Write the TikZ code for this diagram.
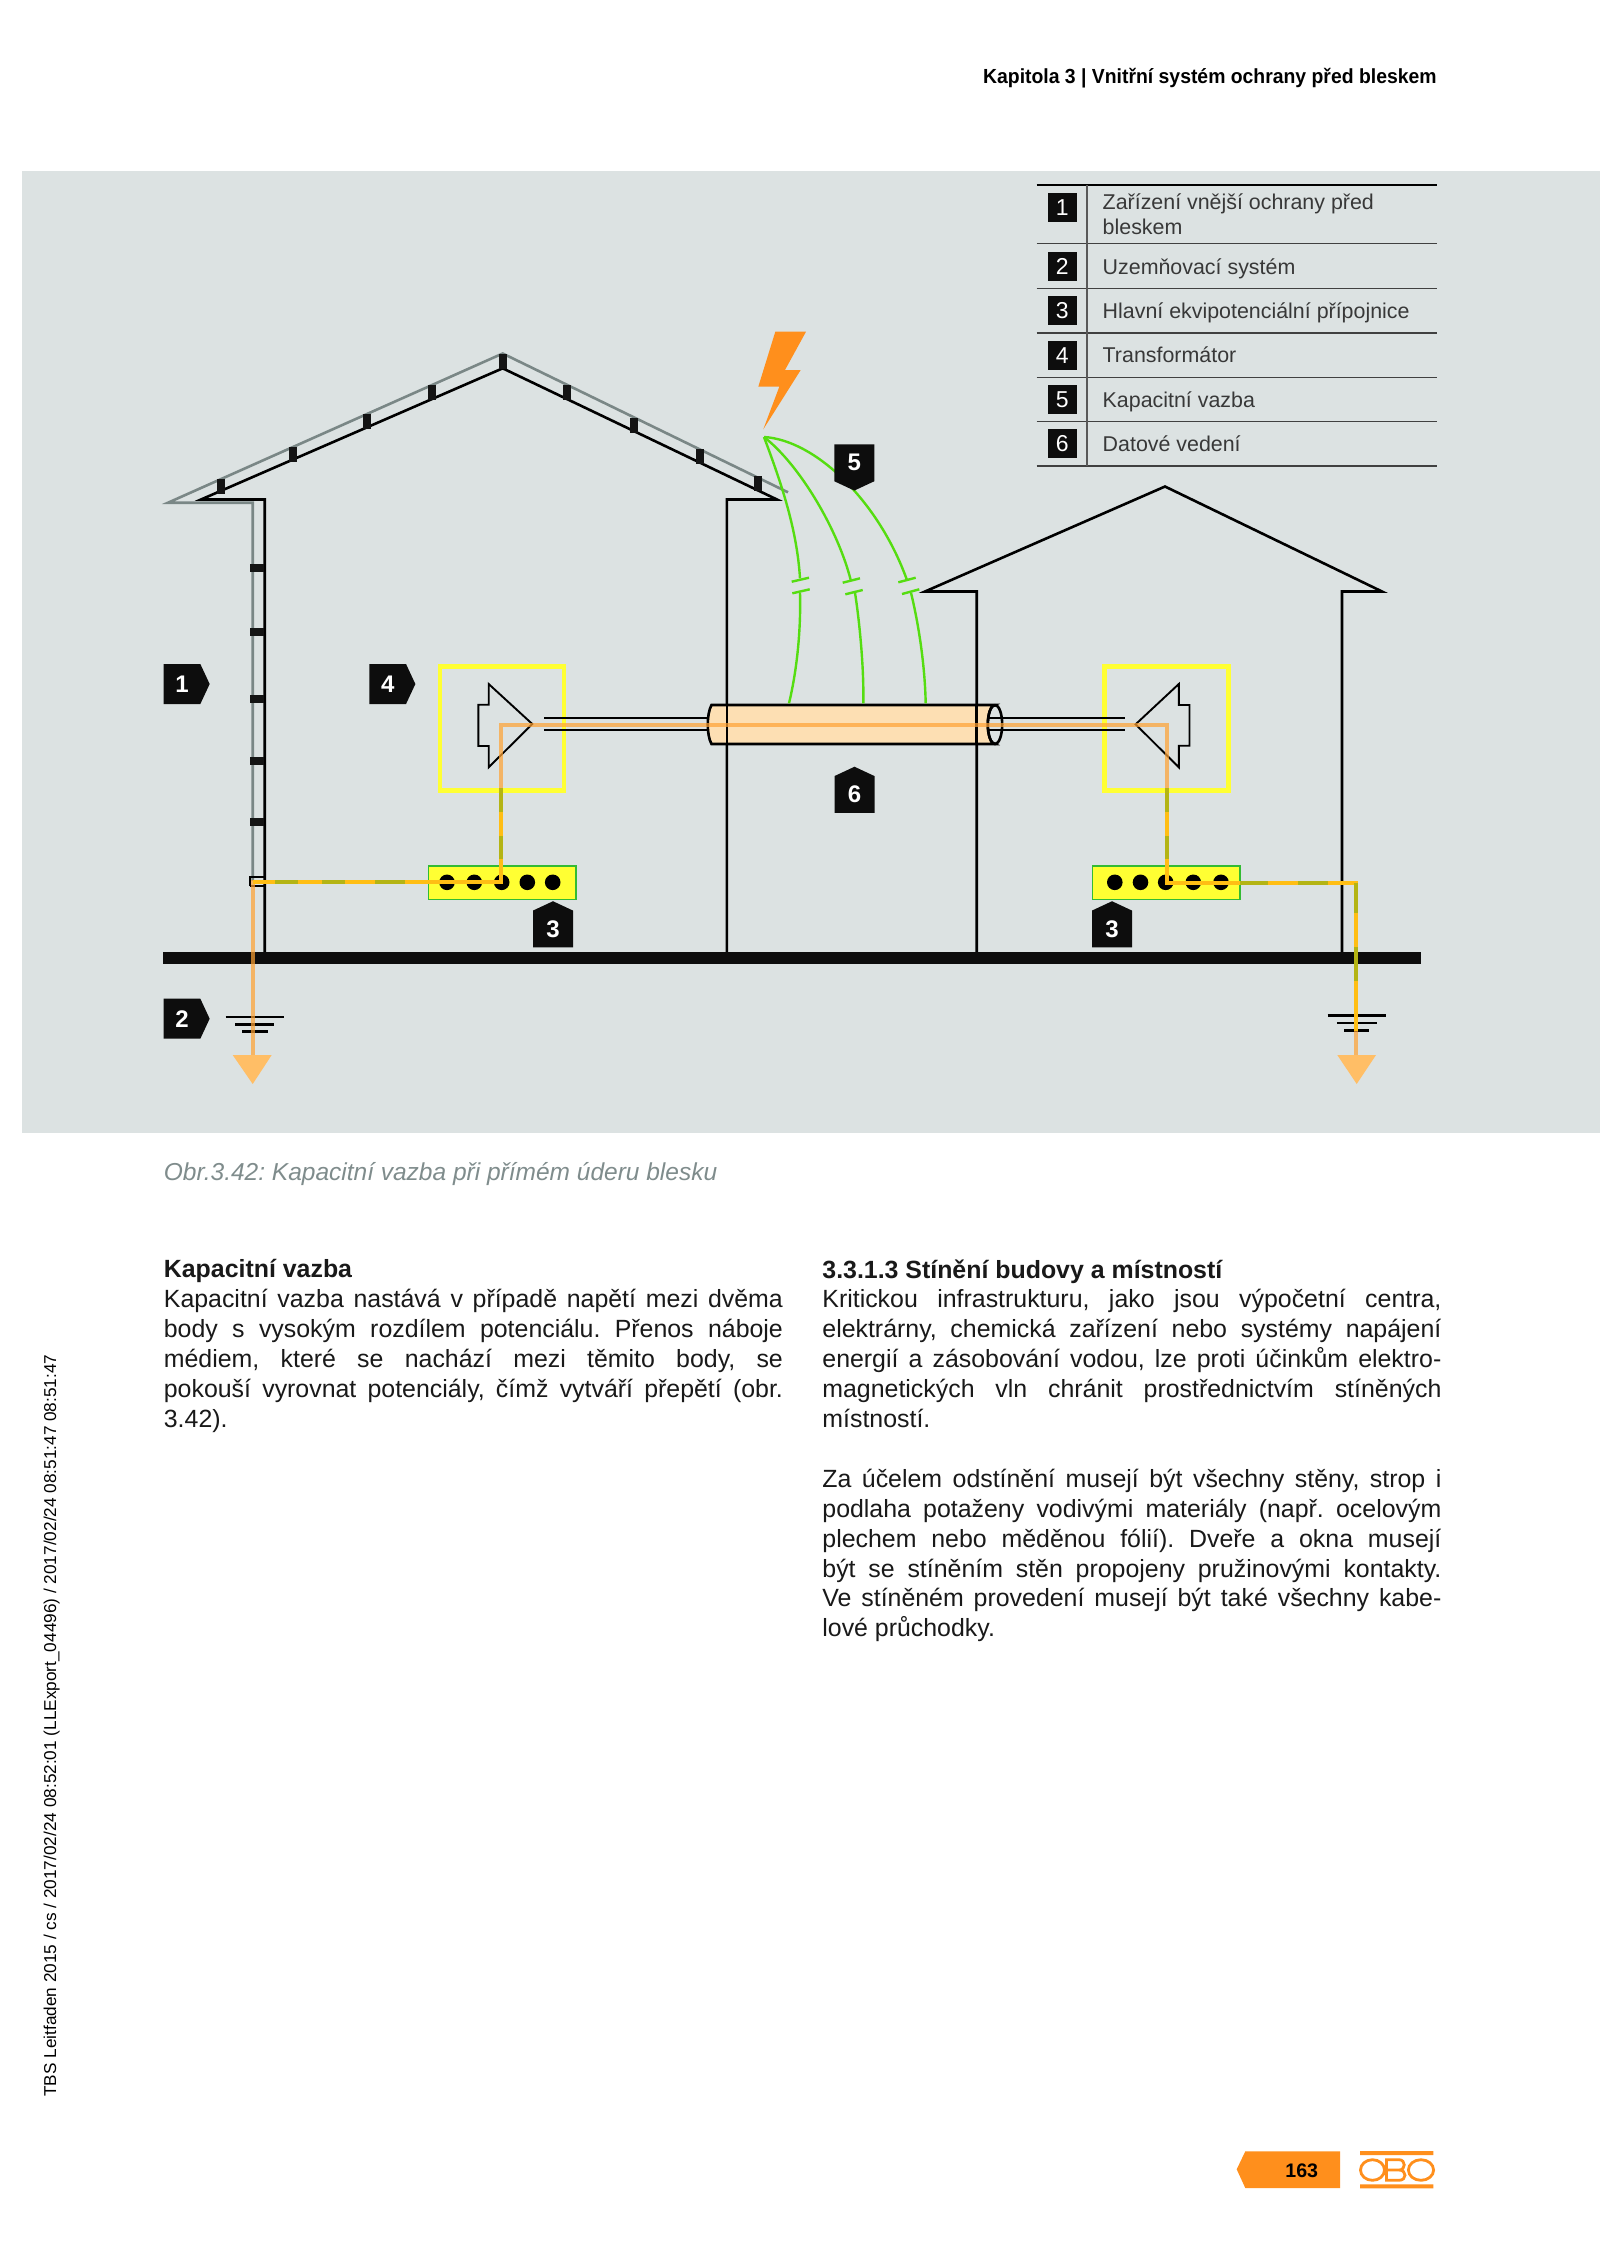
\documentclass[tikz,border=0pt]{standalone}
\usepackage{fontspec}
\setmainfont{Liberation Sans}
\newfontfamily\headfont[FakeStretch=.95]{Liberation Sans}
\usetikzlibrary{shapes.symbols}
\definecolor{panelgrey}{HTML}{DCE2E2}
\definecolor{roofgrey}{HTML}{7A8786}
\definecolor{boltorange}{HTML}{FF8F1C}
\definecolor{wireorange}{HTML}{FFA233}
\definecolor{arroworange}{HTML}{FFBE66}
\definecolor{coupgreen}{HTML}{55DD11}
\definecolor{boxyellow}{HTML}{FFFF33}
\definecolor{barborder}{HTML}{33BB33}
\definecolor{cablepeach}{HTML}{FDDFB3}
\definecolor{peyellow}{HTML}{FFBE14}
\definecolor{pegreen}{HTML}{B4B414}
\definecolor{capgrey}{HTML}{7F8C8C}
\tikzset{
  wall/.style={line width=1.3pt, black},
  roofline/.style={line width=1.3pt, roofgrey},
  clamp/.style={fill=black!92},
  coup/.style={line width=1.2pt, coupgreen},
  wire/.style={line width=2.1pt, wireorange, opacity=.71},
  peline/.style={line width=2.1pt, peyellow},
  pedash/.style={line width=2.1pt, pegreen},
  cableline/.style={line width=1.25pt, black},
  transf/.style={line width=.95pt, black},
  earthline/.style={line width=1.35pt},
  badge/.style={shape=signal, fill=black!95, text=white, font=\fontsize{12}{12}\selectfont\bfseries,
    minimum width=23pt, minimum height=20pt, inner sep=0pt, signal pointer angle=130},
  upbadge/.style={badge, minimum width=20pt, minimum height=20pt},
  keybox/.style={fill=black!95, text=white, minimum size=14.6pt, inner sep=0pt, font=\fontsize{11.5}{11.5}\selectfont},
  keytext/.style={anchor=base west, inner sep=0pt, font=\fontsize{10.7}{12.3}\selectfont, text=black!78},
  bodytext/.style={anchor=north west, inner sep=0pt, text width=309.5pt, align=justify, text=black!90,
    font=\frenchspacing\fontsize{12.45}{14.95}\selectfont},
}
\begin{document}
\begin{tikzpicture}[x=.5pt, y=-.5pt]
  \useasboundingbox (0,0) rectangle (1600,2245);
  \fill[white] (0,0) rectangle (1600,2245);
  \fill[panelgrey] (22,171) rectangle (1600,1133);
  % header
  \node[anchor=base east, inner sep=0pt, font=\headfont\fontsize{10.2}{12}\selectfont\bfseries] (head) at (1437,83)
    {Kapitola 3 | Vnitřní systém ochrany před bleskem};

  % left house
  \draw[wall] (264.7,952) -- (264.7,499.5) -- (201,499.5) -- (502.7,368.3) -- (777,499.5) -- (726.8,499.5) -- (726.8,952);
  \draw[roofline] (252.7,881) -- (252.7,502.7) -- (168,502.7) -- (502.7,353.5) -- (788,492.3);
  \foreach \x/\y in {220.5/486, 292.9/454, 366.5/421, 431.7/392.3, 502.7/361.7, 567/392.3, 633.5/425, 699.6/456, 757.6/483.7}
    \fill[clamp] (\x-4,\y-7.5) rectangle (\x+4,\y+7.5);
  \foreach \y in {568, 631.7, 698.7, 760.5, 822}
    \fill[clamp] (250,\y-4) rectangle (264,\y+4);
  \draw[line width=1.2pt] (250,886) -- (250,877) -- (264,877);
  \draw[line width=1.2pt] (250,886) -- (264,886);

  % right house
  \draw[wall] (976.7,952) -- (976.7,591.5) -- (925,591.5) -- (1165,486.5) -- (1382,591.5) -- (1342,591.5) -- (1342,952);

  % ground
  \fill[black!95] (162.7,951.7) rectangle (1420.7,964);

  % yellow boxes
  \draw[line width=2.35pt, boxyellow] (440,666.5) rectangle (564,790.7);
  \draw[line width=2.35pt, boxyellow] (1104.5,666.5) rectangle (1228.5,790.7);

  % data cable
  \draw[cableline] (544,718) -- (708,718) (544,730) -- (708,730);
  \draw[wall, fill=cablepeach] (711.5,705) .. controls (706.5,714) and (706.5,735) .. (711.5,744)
    -- (995,744) arc[start angle=90, end angle=270, x radius=7.2, y radius=19.5] -- cycle;
  \draw[wall] (726.8,705) -- (726.8,744) (976.7,705) -- (976.7,744);
  \draw[wall] (995,705) arc[start angle=270, end angle=-90, x radius=7.2, y radius=19.5];
  \draw[cableline] (988,718) -- (1125,718) (988,730) -- (1125,730);

  % transformers
  \draw[transf] (532.3,724) -- (488.7,684) -- (488.7,704.7) -- (478.3,704.7) -- (478.3,746) -- (488.7,746) -- (488.7,767.3) -- cycle;
  \draw[transf] (1135.6,724.3) -- (1178.8,684) -- (1178.8,705) -- (1189.5,705) -- (1189.5,745.7) -- (1178.8,745.7) -- (1178.8,767.3) -- cycle;

  % bars
  \draw[line width=.8pt, draw=barborder, fill=boxyellow] (428.3,865.7) rectangle (575.7,899.3);
  \draw[line width=.8pt, draw=barborder, fill=boxyellow] (1092.5,865.7) rectangle (1239.9,899.3);
  \foreach \x in {447, 474.3, 501.7, 527.3, 552.7, 1114.8, 1140.5, 1165.7, 1193.3, 1221}
    \fill[black] (\x,882.3) circle (7.8);

  % earth symbols
  \draw[earthline] (225.7,1017) -- (284.3,1017) (235,1024.3) -- (274.3,1024.3) (242.3,1031.7) -- (267.7,1031.7);
  \draw[earthline] (1327.6,1015.3) -- (1386.3,1015.3) (1336.8,1023) -- (1377,1023) (1344,1030.3) -- (1369,1030.3);

  % potential equalisation
  \draw[wire] (252.7,1060) -- (252.7,882) -- (501,882) -- (501,725) -- (1167,725) -- (1167,883.3) -- (1356,883.3) -- (1356,1060);
  \draw[peline] (501,790) -- (501,882) -- (252.7,882);
  \draw[peline] (1167,790) -- (1167,883.3) -- (1356,883.3) -- (1356,1031);
  \draw[pedash] (501,788) -- (501,812) (501,836) -- (501,859)
    (275,882) -- (298,882) (322,882) -- (345,882) (375,882) -- (405,882);
  \draw[pedash] (1167,788) -- (1167,812) (1167,836) -- (1167,859)
    (1240,883.3) -- (1268,883.3) (1298,883.3) -- (1328,883.3)
    (1356,883) -- (1356,913) (1356,947) -- (1356,980.7);
  \fill[arroworange] (232.7,1055) -- (271.7,1055) -- (252.7,1084) -- cycle;
  \fill[arroworange] (1337.3,1055) -- (1376,1055) -- (1356.7,1084) -- cycle;

  % lightning and coupling paths
  \fill[boltorange] (775.3,331.7) -- (806,331.7) -- (785,370) -- (800.7,370) -- (763.3,429.3) -- (779.3,386.7) -- (758.3,386.7) -- cycle;
  \draw[coup] (764,437) .. controls (782,485) and (797,530) .. (800,578.3)
    (800,592.7) .. controls (801,630) and (797,670) .. (789,703.3);
  \draw[coup] (764,437) .. controls (800,465) and (838,530) .. (850.7,580)
    (855,592.7) .. controls (860,625) and (864,670) .. (863.3,703.3);
  \draw[coup] (764,437) .. controls (815,440) and (878,500) .. (906.7,579.3)
    (911,592.7) .. controls (920,630) and (925,670) .. (925.7,703.3);
  \draw[coup] (791.7,581.7) -- (809,577.7) (792.3,593.3) -- (809.7,589.3);
  \draw[coup] (842.7,582.7) -- (860,578.3) (845.3,594.3) -- (862.7,590);
  \draw[coup] (898.3,582.3) -- (915.7,577.7) (902,594) -- (919.3,589.3);

  % number tags
  \node[badge, signal to=east] (tag1) at (182,684) {1};
  \node[badge, signal to=east] (tag4) at (387.7,684) {4};
  \node[badge, signal to=east] (tag2) at (182,1018.7) {2};
  \node[upbadge, signal to=north] (tag3a) at (553,929) {3};
  \node[upbadge, signal to=north] (tag3b) at (1112,929) {3};
  \node[upbadge, signal to=north] (tag6) at (854.5,794.5) {6};
  \node[upbadge, signal to=south] (tag5) at (854.3,462.8) {5};

  % key
  \draw[line width=.9pt, black] (1036.7,185) -- (1437,185);
  \foreach \y in {243.7, 288.3, 333, 377.3, 421.7, 466}
    \draw[line width=.75pt, black!75] (1036.7,\y) -- (1437,\y);
  \draw[line width=.9pt, black!65] (1086.7,185) -- (1086.7,466);
  \foreach \n/\y in {1/207.5, 2/266.2, 3/310.7, 4/355.3, 5/399.7, 6/443.8}
    \node[keybox] (key\n) at (1062.2,\y) {\n};
  \node[keytext] (keytxt1a) at (1102.3,209.3) {Zařízení vnější ochrany před};
  \node[keytext] (keytxt1b) at (1102.3,234) {bleskem};
  \node[keytext] (keytxt2) at (1102.3,274) {Uzemňovací systém};
  \node[keytext] (keytxt3) at (1102.3,318.3) {Hlavní ekvipotenciální přípojnice};
  \node[keytext] (keytxt4) at (1102.3,362.7) {Transformátor};
  \node[keytext] (keytxt5) at (1102.3,407.3) {Kapacitní vazba};
  \node[keytext] (keytxt6) at (1102.3,451.7) {Datové vedení};

  % caption and text
  \node[anchor=base west, inner sep=0pt, text=capgrey, font=\frenchspacing\fontsize{12.25}{14}\selectfont\itshape] (caption) at (163.5,1180)
    {Obr.3.42: Kapacitní vazba při přímém úderu blesku};
  \node[bodytext] (leftcol) at (163.5,1259) {\textbf{Kapacitní vazba}\par
    Kapacitní vazba nastává v případě napětí mezi dvěma\linebreak
    body s vysokým rozdílem potenciálu. Přenos náboje\linebreak
    médiem, které se nachází mezi těmito body, se\linebreak
    pokouší vyrovnat potenciály, čímž vytváří přepětí (obr.\linebreak
    3.42).};
  \node[bodytext] (rightcol) at (822,1259) {\textbf{3.3.1.3 Stínění budovy a místností}\par
    Kritickou infrastrukturu, jako jsou výpočetní centra,\linebreak
    elektrárny, chemická zařízení nebo systémy napájení\linebreak
    energií a zásobování vodou, lze proti účinkům elektro-\linebreak
    magnetických vln chránit prostřednictvím stíněných\linebreak
    místností.\par\vspace{14.95pt}
    Za účelem odstínění musejí být všechny stěny, strop i\linebreak
    podlaha potaženy vodivými materiály (např. ocelovým\linebreak
    plechem nebo měděnou fólií). Dveře a okna musejí\linebreak
    být se stíněním stěn propojeny pružinovými kontakty.\linebreak
    Ve stíněném provedení musejí být také všechny kabe-\linebreak
    lové průchodky.};

  % side line
  \node[rotate=90, anchor=base west, inner sep=0pt, font=\fontsize{8.6}{9}\selectfont] (sideline) at (56,2097)
    {TBS Leitfaden 2015 / cs / 2017/02/24 08:52:01 (LLExport\_04496) / 2017/02/24 08:51:47 08:51:47};

  % page tab and logo
  \fill[boltorange] (1236.7,2169.3) -- (1245.3,2151.3) -- (1340,2151.3) -- (1340,2188) -- (1245.3,2188) -- cycle;
  \node[inner sep=0pt, font=\fontsize{9.8}{10}\selectfont\bfseries] (pagenum) at (1301.7,2171) {163};
  \fill[boltorange] (1360,2151) rectangle (1433.3,2155) (1360,2184.3) rectangle (1433.3,2188.3);
  \draw[boltorange, line width=1.4pt] (1372.5,2170) ellipse (12 and 10.3)
    (1421,2170) ellipse (12.6 and 10.3);
  \draw[boltorange, line width=1.4pt] (1386.5,2159.7) -- (1399,2159.7) .. controls (1406,2159.7) and (1406,2170) .. (1399,2170)
    .. controls (1407,2170) and (1407,2180.3) .. (1399,2180.3) -- (1386.5,2180.3) -- cycle
    (1386.5,2170) -- (1399,2170);
\end{tikzpicture}
\end{document}
